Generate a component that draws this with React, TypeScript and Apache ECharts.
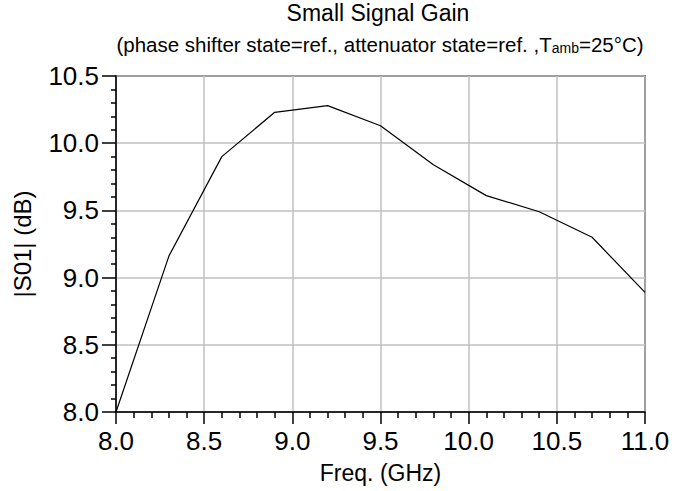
import React, { useEffect, useRef } from "react";
import * as echarts from "echarts";

const freqGHz = [8.0, 8.3, 8.6, 8.9, 9.2, 9.5, 9.8, 10.1, 10.4, 10.7, 11.0];
const gainDb = [8.0, 9.16, 9.9, 10.23, 10.28, 10.13, 9.84, 9.61, 9.49, 9.3, 8.89];
const titleText = "Small Signal Gain";
const xName = "Freq. (GHz)";
const yName = "|S01| (dB)";

export default function App() {
  const ref = useRef<HTMLDivElement>(null);
  useEffect(() => {
    if (!ref.current) return;
    const chart = echarts.init(ref.current, null, { renderer: "svg" });
    const font = "Liberation Sans, Arial, sans-serif";
    chart.setOption({
      animation: false,
      backgroundColor: "#fff",
      textStyle: { fontFamily: font },
      graphic: [
        {
          type: "text",
          x: 378,
          y: 1,
          style: { text: titleText, fontSize: 23, fontFamily: font, fill: "#000", textAlign: "center" },
        },
        {
          type: "text",
          x: 380,
          y: 33,
          style: {
            text: "(phase shifter state=ref., attenuator state=ref. ,T{sub|amb}=25°C)",
            fontSize: 20.5,
            fontFamily: font,
            fill: "#000",
            textAlign: "center",
            rich: {
              sub: { fontSize: 14, fontFamily: font, fill: "#000", verticalAlign: "bottom", padding: [8, 0, 0, 0] },
            },
          },
        },
      ],
      grid: {
        left: 116,
        right: 29,
        top: 76,
        bottom: 79,
        show: true,
        borderColor: "#000",
        borderWidth: 1.5,
        backgroundColor: "transparent",
      },
      xAxis: {
        type: "value",
        min: 8,
        max: 11,
        interval: 0.5,
        name: xName,
        nameLocation: "middle",
        nameGap: 49,
        nameTextStyle: { fontSize: 23, color: "#000", fontFamily: font },
        axisLine: { lineStyle: { color: "#000", width: 1.5 } },
        axisTick: { show: true, inside: false, length: 12, lineStyle: { color: "#000", width: 1.5 } },
        minorTick: { show: true, splitNumber: 5, length: 6, lineStyle: { color: "#000", width: 1.5 } },
        axisLabel: {
          fontSize: 26,
          color: "#000",
          fontFamily: font,
          margin: 16,
          formatter: (v: number) => v.toFixed(1),
        },
        splitLine: { show: true, lineStyle: { color: "#c0c0c0", width: 1.5 } },
      },
      yAxis: {
        type: "value",
        min: 8,
        max: 10.5,
        interval: 0.5,
        name: yName,
        nameLocation: "middle",
        nameGap: 82,
        nameTextStyle: { fontSize: 24, color: "#000", fontFamily: font },
        axisLine: { show: true, lineStyle: { color: "#000", width: 1.5 } },
        axisTick: { show: true, inside: false, length: 14, lineStyle: { color: "#000", width: 1.5 } },
        minorTick: { show: true, splitNumber: 5, length: 5, lineStyle: { color: "#000", width: 1.5 } },
        axisLabel: {
          fontSize: 26,
          color: "#000",
          fontFamily: font,
          margin: 17,
          formatter: (v: number) => v.toFixed(1),
        },
        splitLine: { show: true, lineStyle: { color: "#c0c0c0", width: 1.5 } },
      },
      series: [
        {
          type: "line",
          data: freqGHz.map((f, i) => [f, gainDb[i]]),
          showSymbol: false,
          lineStyle: { color: "#000", width: 1.2 },
          clip: true,
        },
      ],
    });
    return () => chart.dispose();
  }, []);
  return <div ref={ref} style={{ width: 674, height: 491, position: "absolute", left: 0, top: 0 }} />;
}
